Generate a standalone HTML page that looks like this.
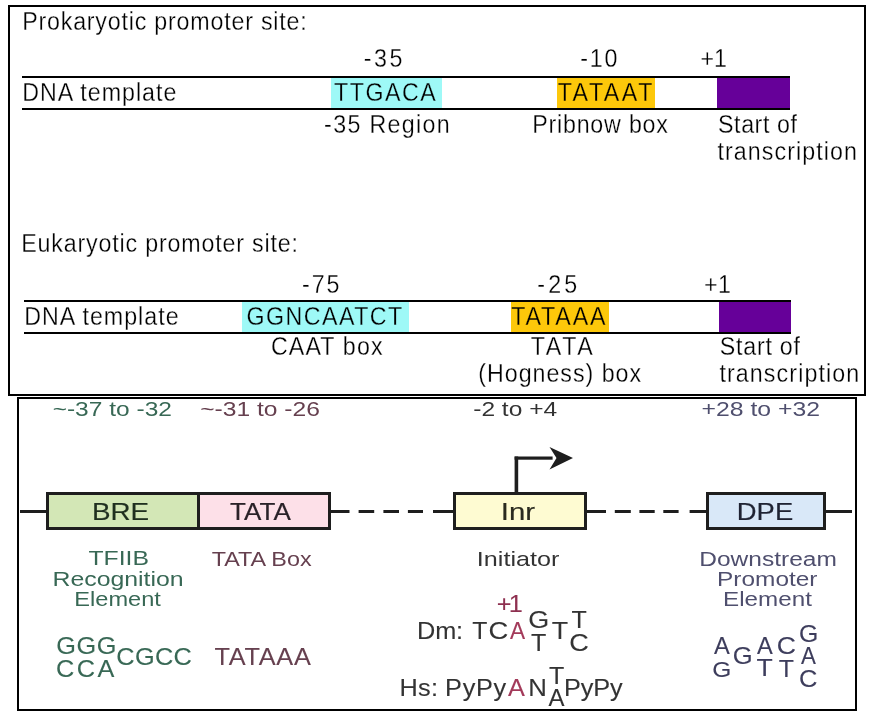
<!DOCTYPE html>
<html><head><meta charset="utf-8"><style>
html,body{margin:0;padding:0;background:#fff;}
svg{display:block;}
text{font-family:"Liberation Sans",sans-serif;white-space:pre;}
</style></head><body>
<svg style="will-change:transform" width="871" height="722" viewBox="0 0 871 722">
<rect x="0" y="0" width="871" height="722" fill="#fff"/>
<!-- top box -->
<rect x="9" y="6" width="856" height="389" fill="none" stroke="#000" stroke-width="2"/>
<rect x="22" y="76" width="768" height="2" fill="#000"/>
<rect x="22" y="108" width="768" height="2" fill="#000"/>
<rect x="331" y="78" width="111" height="30" fill="#9ef9f7"/>
<rect x="557" y="78" width="98" height="30" fill="#fdc80a"/>
<rect x="717" y="78" width="73" height="30" fill="#660099"/>
<rect x="24" y="300" width="767" height="2" fill="#000"/>
<rect x="24" y="332" width="767" height="2" fill="#000"/>
<rect x="242" y="302" width="167" height="30" fill="#9ef9f7"/>
<rect x="511" y="302" width="98" height="30" fill="#fdc80a"/>
<rect x="719" y="302" width="72" height="30" fill="#660099"/>
<!-- bottom box -->
<rect x="18" y="398" width="838" height="312" fill="none" stroke="#000" stroke-width="2"/>
<g fill="#1e1e1e">
<rect x="20" y="510" width="27" height="3"/>
</g>
<rect x="47.5" y="493.5" width="151" height="35" fill="#d3e7b6" stroke="#1e1e1e" stroke-width="3"/>
<rect x="198.5" y="493.5" width="131" height="35" fill="#fde0e8" stroke="#1e1e1e" stroke-width="3"/>
<rect x="454.5" y="493.5" width="131" height="35" fill="#fefbd2" stroke="#1e1e1e" stroke-width="3"/>
<rect x="707.5" y="493.5" width="117" height="35" fill="#d9e8f8" stroke="#1e1e1e" stroke-width="3"/>
<g fill="#1e1e1e">
<rect x="331" y="510" width="18.5" height="3"/>
<rect x="358.6" y="510" width="15.6" height="3"/>
<rect x="383.4" y="510" width="15.6" height="3"/>
<rect x="407.9" y="510" width="15.1" height="3"/>
<rect x="433" y="510" width="21" height="3"/>
<rect x="587" y="510" width="19" height="3"/>
<rect x="614.8" y="510" width="16" height="3"/>
<rect x="639.4" y="510" width="15.3" height="3"/>
<rect x="663.3" y="510" width="15.3" height="3"/>
<rect x="689.6" y="510" width="18" height="3"/>
<rect x="826" y="510" width="26" height="3"/>
<rect x="514.6" y="456.5" width="3.6" height="37"/>
<rect x="514.6" y="456.5" width="38" height="3.2"/>
<path d="M549.5 447 L573 458 L549.5 469.5 L556.5 458 Z"/>
</g>

<text transform="translate(22.18 30.00) scale(0.9300 1.000)" font-size="25" letter-spacing="0.853" fill="#000" stroke="#fff" stroke-width="0.27">Prokaryotic promoter site:</text>
<text transform="translate(363.87 67.00) scale(0.9300 1.000)" font-size="25" letter-spacing="2.616" fill="#000" stroke="#fff" stroke-width="0.27">-35</text>
<text transform="translate(580.27 67.00) scale(0.9300 1.000)" font-size="25" letter-spacing="1.883" fill="#000" stroke="#fff" stroke-width="0.27">-10</text>
<text transform="translate(700.41 67.00) scale(0.9300 1.000)" font-size="25" letter-spacing="0.026" fill="#000" stroke="#fff" stroke-width="0.27">+1</text>
<text transform="translate(22.18 101.00) scale(0.9300 1.000)" font-size="25" letter-spacing="1.059" fill="#000" stroke="#fff" stroke-width="0.27">DNA template</text>
<text transform="translate(334.04 101.00) scale(0.9300 1.000)" font-size="25" letter-spacing="1.625" fill="#000" stroke="#9ef9f7" stroke-width="0.27">TTGACA</text>
<text transform="translate(557.64 101.00) scale(0.9300 1.000)" font-size="25" letter-spacing="2.696" fill="#000" stroke="#fdc80a" stroke-width="0.27">TATAAT</text>
<text transform="translate(324.07 133.00) scale(0.9300 1.000)" font-size="25" letter-spacing="1.433" fill="#000" stroke="#fff" stroke-width="0.27">-35 Region</text>
<text transform="translate(532.18 133.00) scale(0.9300 1.000)" font-size="25" letter-spacing="0.847" fill="#000" stroke="#fff" stroke-width="0.27">Pribnow box</text>
<text transform="translate(718.07 133.00) scale(0.9300 1.000)" font-size="25" letter-spacing="0.599" fill="#000" stroke="#fff" stroke-width="0.27">Start of</text>
<text transform="translate(717.50 160.00) scale(0.9300 1.000)" font-size="25" letter-spacing="1.144" fill="#000" stroke="#fff" stroke-width="0.27">transcription</text>
<text transform="translate(21.28 252.00) scale(0.9300 1.000)" font-size="25" letter-spacing="0.882" fill="#000" stroke="#fff" stroke-width="0.27">Eukaryotic promoter site:</text>
<text transform="translate(301.97 293.00) scale(0.9300 1.000)" font-size="25" letter-spacing="2.078" fill="#000" stroke="#fff" stroke-width="0.27">-75</text>
<text transform="translate(537.37 293.00) scale(0.9300 1.000)" font-size="25" letter-spacing="3.315" fill="#000" stroke="#fff" stroke-width="0.27">-25</text>
<text transform="translate(703.91 293.00) scale(0.9300 1.000)" font-size="25" letter-spacing="0.563" fill="#000" stroke="#fff" stroke-width="0.27">+1</text>
<text transform="translate(24.18 325.00) scale(0.9300 1.000)" font-size="25" letter-spacing="1.079" fill="#000" stroke="#fff" stroke-width="0.27">DNA template</text>
<text transform="translate(246.51 325.00) scale(0.9300 1.000)" font-size="25" letter-spacing="1.566" fill="#000" stroke="#9ef9f7" stroke-width="0.27">GGNCAATCT</text>
<text transform="translate(511.24 325.00) scale(0.9300 1.000)" font-size="25" letter-spacing="1.934" fill="#000" stroke="#fdc80a" stroke-width="0.27">TATAAA</text>
<text transform="translate(270.91 355.00) scale(0.9300 1.000)" font-size="25" letter-spacing="1.223" fill="#000" stroke="#fff" stroke-width="0.27">CAAT box</text>
<text transform="translate(530.64 355.00) scale(0.9300 1.000)" font-size="25" letter-spacing="2.870" fill="#000" stroke="#fff" stroke-width="0.27">TATA</text>
<text transform="translate(478.31 382.00) scale(0.9300 1.000)" font-size="25" letter-spacing="1.048" fill="#000" stroke="#fff" stroke-width="0.27">(Hogness) box</text>
<text transform="translate(719.87 355.00) scale(0.9300 1.000)" font-size="25" letter-spacing="0.783" fill="#000" stroke="#fff" stroke-width="0.27">Start of</text>
<text transform="translate(719.40 382.00) scale(0.9300 1.000)" font-size="25" letter-spacing="1.189" fill="#000" stroke="#fff" stroke-width="0.27">transcription</text>
<text transform="translate(52.63 416.00) scale(1.2269 1.000)" font-size="20" letter-spacing="0.000" fill="#386855">~-37 to -32</text>
<text transform="translate(200.13 416.00) scale(1.2321 1.000)" font-size="20" letter-spacing="0.000" fill="#66404f">~-31 to -26</text>
<text transform="translate(473.23 416.00) scale(1.2281 1.000)" font-size="20" letter-spacing="0.000" fill="#333333">-2 to +4</text>
<text transform="translate(701.54 416.00) scale(1.2397 1.000)" font-size="20" letter-spacing="0.000" fill="#4f4f6e">+28 to +32</text>
<text transform="translate(91.92 519.50) scale(1.1600 1.000)" font-size="24" letter-spacing="0.000" fill="#1f2f1f" stroke="#1f2f1f" stroke-width="0.17">BRE</text>
<text transform="translate(230.09 519.50) scale(1.0855 1.000)" font-size="24" letter-spacing="0.000" fill="#2a2228" stroke="#2a2228" stroke-width="0.18">TATA</text>
<text transform="translate(500.80 519.50) scale(1.2262 1.000)" font-size="24" letter-spacing="0.000" fill="#2a2a1f" stroke="#2a2a1f" stroke-width="0.16">Inr</text>
<text transform="translate(736.86 519.50) scale(1.1406 1.000)" font-size="24" letter-spacing="0.000" fill="#1f2333" stroke="#1f2333" stroke-width="0.18">DPE</text>
<text transform="translate(88.41 565.00) scale(1.2381 1.000)" font-size="20" letter-spacing="0.000" fill="#386855">TFIIB</text>
<text transform="translate(52.46 586.00) scale(1.2434 1.000)" font-size="20" letter-spacing="0.000" fill="#386855">Recognition</text>
<text transform="translate(74.25 606.00) scale(1.1812 1.000)" font-size="20" letter-spacing="0.000" fill="#386855">Element</text>
<text transform="translate(211.63 565.50) scale(1.1694 1.000)" font-size="20" letter-spacing="0.000" fill="#66404f">TATA Box</text>
<text transform="translate(476.83 565.50) scale(1.2577 1.000)" font-size="20" letter-spacing="0.000" fill="#333333">Initiator</text>
<text transform="translate(699.28 565.50) scale(1.2256 1.000)" font-size="20" letter-spacing="0.000" fill="#4f4f6e">Downstream</text>
<text transform="translate(717.09 585.50) scale(1.2211 1.000)" font-size="20" letter-spacing="0.000" fill="#4f4f6e">Promoter</text>
<text transform="translate(723.11 606.30) scale(1.2104 1.000)" font-size="20" letter-spacing="0.000" fill="#4f4f6e">Element</text>
<text transform="translate(56.31 653.50) scale(1.1000 1.000)" font-size="23" letter-spacing="0.472" fill="#386855" stroke="#386855" stroke-width="0.09">GGG</text>
<text transform="translate(55.91 676.50) scale(1.1000 1.000)" font-size="23" letter-spacing="2.294" fill="#386855" stroke="#386855" stroke-width="0.09">CCA</text>
<text transform="translate(116.31 665.00) scale(1.1000 1.000)" font-size="23" letter-spacing="0.325" fill="#386855" stroke="#386855" stroke-width="0.09">CGCC</text>
<text transform="translate(214.40 665.00) scale(1.1000 1.000)" font-size="23" letter-spacing="0.672" fill="#66404f" stroke="#66404f" stroke-width="0.09">TATAAA</text>
<text transform="translate(496.81 611.70) scale(1.1000 1.000)" font-size="23" letter-spacing="-2.577" fill="#8e3050" stroke="#8e3050" stroke-width="0.09">+1</text>
<text transform="translate(417.02 638.60) scale(1.1000 1.000)" font-size="23" letter-spacing="-0.097" fill="#333333" stroke="#333333" stroke-width="0.09">Dm:</text>
<text transform="translate(472.21 639.00) scale(1.0754 1.000)" font-size="23" letter-spacing="0.000" fill="#333333" stroke="#333333" stroke-width="0.09">T</text>
<text transform="translate(488.42 639.00) scale(1.1877 1.000)" font-size="23" letter-spacing="0.000" fill="#333333" stroke="#333333" stroke-width="0.08">C</text>
<text transform="translate(510.00 639.00) scale(0.9836 1.000)" font-size="23" letter-spacing="0.000" fill="#a33a5a" stroke="#a33a5a" stroke-width="0.10">A</text>
<text transform="translate(528.34 628.30) scale(1.1727 1.000)" font-size="23" letter-spacing="0.000" fill="#333333" stroke="#333333" stroke-width="0.09">G</text>
<text transform="translate(531.01 650.80) scale(1.0905 1.000)" font-size="23" letter-spacing="0.000" fill="#333333" stroke="#333333" stroke-width="0.09">T</text>
<text transform="translate(551.68 639.20) scale(1.1657 1.000)" font-size="23" letter-spacing="0.000" fill="#333333" stroke="#333333" stroke-width="0.09">T</text>
<text transform="translate(571.41 628.30) scale(1.0905 1.000)" font-size="23" letter-spacing="0.000" fill="#333333" stroke="#333333" stroke-width="0.09">T</text>
<text transform="translate(569.13 650.50) scale(1.1741 1.000)" font-size="23" letter-spacing="0.000" fill="#333333" stroke="#333333" stroke-width="0.09">C</text>
<text transform="translate(399.52 696.00) scale(1.1000 1.000)" font-size="23" letter-spacing="0.278" fill="#333333" stroke="#333333" stroke-width="0.09">Hs:</text>
<text transform="translate(445.12 696.00) scale(1.1000 1.000)" font-size="23" letter-spacing="0.644" fill="#333333" stroke="#333333" stroke-width="0.09">PyPy</text>
<text transform="translate(508.10 696.00) scale(1.1001 1.000)" font-size="23" letter-spacing="0.000" fill="#a33a5a" stroke="#a33a5a" stroke-width="0.09">A</text>
<text transform="translate(528.19 696.20) scale(1.1208 1.000)" font-size="23" letter-spacing="0.000" fill="#333333" stroke="#333333" stroke-width="0.09">N</text>
<text transform="translate(548.91 684.10) scale(1.0905 1.000)" font-size="23" letter-spacing="0.000" fill="#333333" stroke="#333333" stroke-width="0.09">T</text>
<text transform="translate(548.50 706.40) scale(1.0419 1.000)" font-size="23" letter-spacing="0.000" fill="#333333" stroke="#333333" stroke-width="0.10">A</text>
<text transform="translate(564.02 696.00) scale(1.1000 1.000)" font-size="23" letter-spacing="-0.083" fill="#333333" stroke="#333333" stroke-width="0.09">PyPy</text>
<text transform="translate(714.00 653.80) scale(1.0289 1.000)" font-size="23" letter-spacing="0.000" fill="#3d3d5c" stroke="#3d3d5c" stroke-width="0.10">A</text>
<text transform="translate(712.15 676.50) scale(1.0667 1.000)" font-size="23" letter-spacing="0.000" fill="#3d3d5c" stroke="#3d3d5c" stroke-width="0.09">G</text>
<text transform="translate(732.70 664.30) scale(1.1130 1.000)" font-size="23" letter-spacing="0.000" fill="#3d3d5c" stroke="#3d3d5c" stroke-width="0.09">G</text>
<text transform="translate(757.00 653.50) scale(1.0289 1.000)" font-size="23" letter-spacing="0.000" fill="#3d3d5c" stroke="#3d3d5c" stroke-width="0.10">A</text>
<text transform="translate(756.58 676.30) scale(1.1582 1.000)" font-size="23" letter-spacing="0.000" fill="#3d3d5c" stroke="#3d3d5c" stroke-width="0.09">T</text>
<text transform="translate(776.66 653.50) scale(1.1538 1.000)" font-size="23" letter-spacing="0.000" fill="#3d3d5c" stroke="#3d3d5c" stroke-width="0.09">C</text>
<text transform="translate(778.81 676.50) scale(1.0830 1.000)" font-size="23" letter-spacing="0.000" fill="#3d3d5c" stroke="#3d3d5c" stroke-width="0.09">T</text>
<text transform="translate(799.04 641.80) scale(1.0799 1.000)" font-size="23" letter-spacing="0.000" fill="#3d3d5c" stroke="#3d3d5c" stroke-width="0.09">G</text>
<text transform="translate(801.00 664.30) scale(0.9707 1.000)" font-size="23" letter-spacing="0.000" fill="#3d3d5c" stroke="#3d3d5c" stroke-width="0.10">A</text>
<text transform="translate(799.01 687.20) scale(1.1063 1.000)" font-size="23" letter-spacing="0.000" fill="#3d3d5c" stroke="#3d3d5c" stroke-width="0.09">C</text>
</svg>
</body></html>
